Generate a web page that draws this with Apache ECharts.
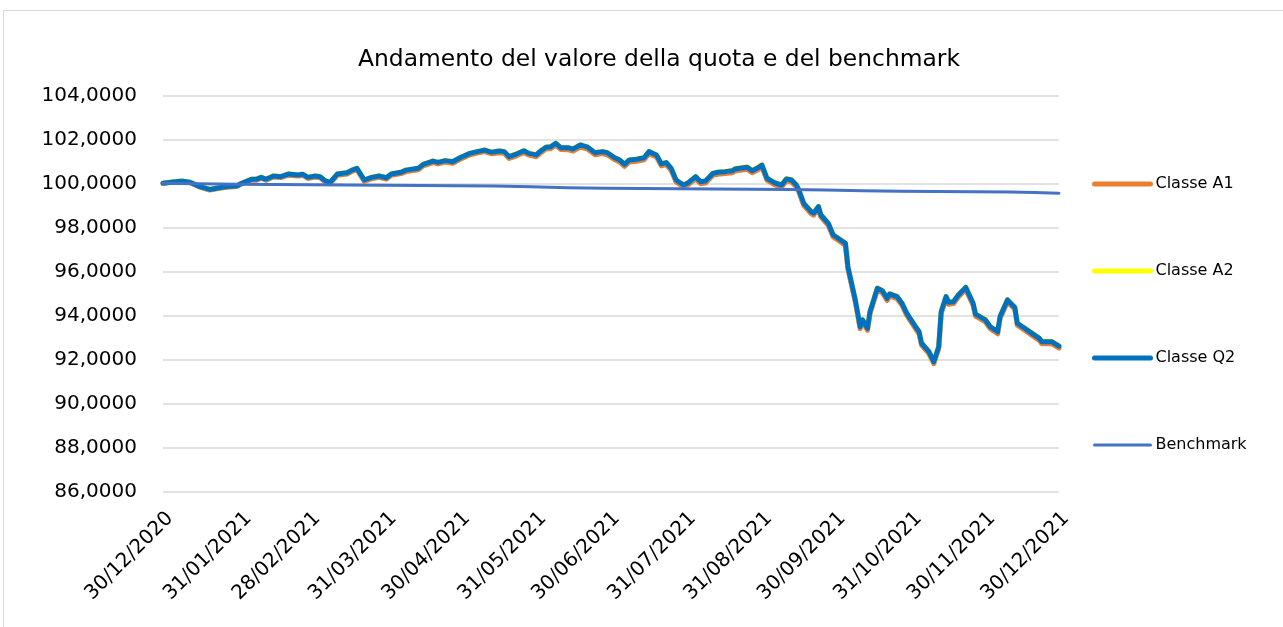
<!DOCTYPE html>
<html>
<head>
<meta charset="utf-8">
<script src="https://cdn.jsdelivr.net/npm/echarts@6/dist/echarts.min.js"></script>
<style>
  html, body { margin: 0; padding: 0; background: #fff; }
  #chart { width: 1283px; height: 627px; }
</style>
</head>
<body>
<div id="chart"></div>
<script>
// giorni dal 30/12/2020
var days = [
  0, 4, 8, 11, 15, 19, 23, 26, 30, 32,
  36, 38, 40, 42, 45, 48, 51, 55, 57, 59,
  62, 64, 66, 68, 71, 75, 77, 79, 82, 85,
  88, 91, 93, 97, 99, 104, 106, 110, 112, 115,
  118, 121, 125, 128, 131, 134, 137, 139, 141, 144,
  147, 149, 152, 154, 156, 158, 160, 162, 165, 167,
  170, 173, 176, 179, 181, 184, 186, 188, 190, 193,
  196, 198, 201, 203, 205, 207, 209, 212, 214, 217,
  219, 221, 224, 226, 229, 232, 233, 238, 240, 242,
  244, 246, 249, 252, 254, 256, 258, 259, 261, 264,
  265, 267, 268, 271, 273, 275, 278, 279, 282, 284,
  285, 287, 288, 291, 293, 295, 296, 299, 301, 303,
  307, 308, 309, 312, 314, 316, 317, 319, 320, 322,
  324, 327, 330, 331, 335, 337, 340, 341, 344, 347,
  348, 351, 354, 357, 358, 362, 365
];

var classeA1 = [
  100.00, 100.05, 100.08, 100.03, 99.83, 99.69, 99.77, 99.82, 99.85, 99.97,
  100.14, 100.14, 100.23, 100.14, 100.29, 100.26, 100.37, 100.33, 100.36, 100.22,
  100.28, 100.25, 100.07, 99.98, 100.36, 100.42, 100.54, 100.62, 100.09, 100.21,
  100.27, 100.19, 100.36, 100.44, 100.53, 100.61, 100.79, 100.94, 100.88, 100.96,
  100.91, 101.09, 101.29, 101.37, 101.44, 101.34, 101.39, 101.36, 101.13, 101.25,
  101.40, 101.28, 101.21, 101.40, 101.56, 101.58, 101.74, 101.54, 101.53, 101.46,
  101.65, 101.55, 101.30, 101.35, 101.30, 101.07, 100.97, 100.77, 100.97, 101.00,
  101.07, 101.35, 101.20, 100.79, 100.85, 100.59, 100.06, 99.83, 99.94, 100.21,
  99.98, 100.01, 100.36, 100.41, 100.44, 100.48, 100.56, 100.64, 100.48, 100.59,
  100.74, 100.14, 99.94, 99.83, 100.11, 100.06, 99.83, 99.61, 99.00, 98.62,
  98.55, 98.85, 98.47, 98.09, 97.56, 97.41, 97.18, 96.12, 94.61, 93.39,
  93.70, 93.32, 94.07, 95.14, 95.03, 94.68, 94.88, 94.76, 94.46, 94.00,
  93.32, 93.16, 92.64, 92.26, 91.80, 92.48, 94.07, 94.76, 94.50, 94.53,
  94.83, 95.18, 94.46, 93.96, 93.70, 93.39, 93.16, 93.85, 94.61, 94.27,
  93.55, 93.32, 93.09, 92.86, 92.71, 92.71, 92.51
];

var classeA2 = [
  100.00, 100.07, 100.11, 100.06, 99.86, 99.73, 99.81, 99.86, 99.89, 100.01,
  100.19, 100.19, 100.28, 100.19, 100.34, 100.31, 100.43, 100.39, 100.42, 100.28,
  100.34, 100.31, 100.13, 100.04, 100.43, 100.49, 100.61, 100.69, 100.16, 100.28,
  100.34, 100.26, 100.43, 100.51, 100.61, 100.69, 100.87, 101.02, 100.96, 101.04,
  100.99, 101.17, 101.37, 101.45, 101.52, 101.42, 101.48, 101.45, 101.22, 101.34,
  101.49, 101.37, 101.30, 101.49, 101.65, 101.67, 101.83, 101.63, 101.63, 101.56,
  101.75, 101.65, 101.40, 101.45, 101.40, 101.17, 101.07, 100.87, 101.07, 101.10,
  101.17, 101.45, 101.30, 100.89, 100.95, 100.69, 100.16, 99.93, 100.04, 100.31,
  100.08, 100.11, 100.46, 100.51, 100.54, 100.59, 100.67, 100.75, 100.59, 100.70,
  100.85, 100.25, 100.05, 99.94, 100.22, 100.17, 99.94, 99.72, 99.11, 98.73,
  98.66, 98.96, 98.58, 98.20, 97.67, 97.52, 97.29, 96.23, 94.72, 93.50,
  93.81, 93.43, 94.18, 95.25, 95.14, 94.79, 94.99, 94.87, 94.57, 94.11,
  93.43, 93.27, 92.75, 92.37, 91.91, 92.59, 94.18, 94.87, 94.61, 94.64,
  94.94, 95.29, 94.57, 94.07, 93.81, 93.50, 93.27, 93.96, 94.72, 94.38,
  93.66, 93.43, 93.20, 92.97, 92.82, 92.82, 92.62
];

var classeQ2 = [
  100.00, 100.06, 100.10, 100.05, 99.85, 99.72, 99.80, 99.85, 99.88, 100.00,
  100.18, 100.18, 100.27, 100.18, 100.33, 100.30, 100.42, 100.38, 100.41, 100.27,
  100.33, 100.30, 100.12, 100.03, 100.42, 100.48, 100.60, 100.68, 100.15, 100.27,
  100.33, 100.25, 100.42, 100.50, 100.60, 100.68, 100.86, 101.01, 100.95, 101.03,
  100.98, 101.16, 101.36, 101.44, 101.51, 101.41, 101.47, 101.44, 101.21, 101.33,
  101.48, 101.36, 101.29, 101.48, 101.64, 101.66, 101.82, 101.62, 101.62, 101.55,
  101.74, 101.64, 101.39, 101.44, 101.39, 101.16, 101.06, 100.86, 101.06, 101.09,
  101.16, 101.44, 101.29, 100.88, 100.94, 100.68, 100.15, 99.92, 100.03, 100.30,
  100.07, 100.10, 100.45, 100.50, 100.53, 100.57, 100.65, 100.73, 100.57, 100.68,
  100.83, 100.23, 100.03, 99.92, 100.20, 100.15, 99.92, 99.70, 99.09, 98.71,
  98.64, 98.94, 98.56, 98.18, 97.65, 97.50, 97.27, 96.21, 94.70, 93.48,
  93.79, 93.41, 94.16, 95.23, 95.12, 94.77, 94.97, 94.85, 94.55, 94.09,
  93.41, 93.25, 92.73, 92.35, 91.89, 92.57, 94.16, 94.85, 94.59, 94.62,
  94.92, 95.27, 94.55, 94.05, 93.79, 93.48, 93.25, 93.94, 94.70, 94.36,
  93.64, 93.41, 93.18, 92.95, 92.80, 92.80, 92.60
];

var benchDays = [0, 15, 30, 45, 60, 75, 90, 105, 120, 135, 150, 165, 180, 195, 210, 225, 240, 255, 270, 285, 300, 315, 330, 345, 355, 365];
var benchmark = [100.00, 99.98, 99.96, 99.94, 99.93, 99.92, 99.91, 99.90, 99.89, 99.88, 99.84, 99.80, 99.77, 99.76, 99.75, 99.74, 99.73, 99.72, 99.69, 99.66, 99.64, 99.63, 99.62, 99.60, 99.58, 99.55];

// etichette asse x
var tickDays = [0, 32, 60, 91, 121, 152, 182, 213, 244, 274, 305, 335, 365];
var tickLabels = ["30/12/2020", "31/01/2021", "28/02/2021", "31/03/2021", "30/04/2021", "31/05/2021",
  "30/06/2021", "31/07/2021", "31/08/2021", "30/09/2021", "31/10/2021", "30/11/2021", "30/12/2021"];

var yTicks = [86, 88, 90, 92, 94, 96, 98, 100, 102, 104];

function pairs(xs, ys) {
  return xs.map(function (x, i) { return [x, ys[i]]; });
}

var chart = echarts.init(document.getElementById("chart"));
var font = "DejaVu Sans";

function legendItem(name, color, width) {
  return { name: name, lineStyle: { color: color, width: width, cap: "round" } };
}

var option = {
  animation: false,
  backgroundColor: "#fff",
  textStyle: { fontFamily: font },
  graphic: [{
    type: "rect",
    shape: { x: 3.5, y: 10.5, width: 1300, height: 640 },
    style: { fill: "none", stroke: "#d9d9d9", lineWidth: 1 }
  }],
  title: {
    text: "Andamento del valore della quota e del benchmark",
    left: 654,
    top: 43,
    textAlign: "center",
    textStyle: { fontFamily: font, fontSize: 23.4, fontWeight: "normal", color: "#000" }
  },
  legend: {
    orient: "vertical",
    left: 1092,
    top: 176,
    padding: 0,
    itemWidth: 56,
    itemHeight: 2,
    itemGap: 71,
    itemStyle: { opacity: 0 },
    textStyle: { fontFamily: font, fontSize: 16, color: "#000" },
    data: [
      legendItem("Classe A1", "#ED7D31", 5),
      legendItem("Classe A2", "#FFFF00", 5),
      legendItem("Classe Q2", "#0070C0", 5),
      legendItem("Benchmark", "#4472C4", 3)
    ]
  },
  grid: { left: 163, right: 224, top: 95.3, bottom: 135.7, containLabel: false },
  xAxis: {
    type: "value",
    min: 0,
    max: 365,
    axisLine: { show: false },
    axisTick: { show: false },
    splitLine: { show: false },
    axisLabel: {
      customValues: tickDays,
      rotate: 45,
      margin: 31,
      padding: [0, -10, 0, 0],
      fontFamily: font,
      fontSize: 20,
      color: "#000",
      formatter: function (v) {
        var i = tickDays.indexOf(v);
        return i >= 0 ? tickLabels[i] : "";
      }
    }
  },
  yAxis: {
    type: "value",
    min: yTicks[0],
    max: yTicks[yTicks.length - 1],
    interval: 2,
    axisLine: { show: false },
    axisTick: { show: false },
    splitLine: { lineStyle: { color: "#d9d9d9", width: 1.5 } },
    axisLabel: {
      margin: 26,
      fontFamily: font,
      fontSize: 20,
      color: "#000",
      formatter: function (v) { return v.toFixed(4).replace(".", ","); }
    }
  },
  series: [
    {
      name: "Classe A1", type: "line", data: pairs(days, classeA1),
      showSymbol: false, symbol: "none", color: "#ED7D31",
      lineStyle: { width: 5, color: "#ED7D31", cap: "round", join: "round" }
    },
    {
      name: "Classe A2", type: "line", data: pairs(days, classeA2),
      showSymbol: false, symbol: "none", color: "#FFFF00",
      lineStyle: { width: 5, color: "#FFFF00", cap: "round", join: "round" }
    },
    {
      name: "Classe Q2", type: "line", data: pairs(days, classeQ2),
      showSymbol: false, symbol: "none", color: "#0070C0",
      lineStyle: { width: 5, color: "#0070C0", cap: "round", join: "round" }
    },
    {
      name: "Benchmark", type: "line", data: pairs(benchDays, benchmark),
      showSymbol: false, symbol: "none", color: "#4472C4",
      lineStyle: { width: 3, color: "#4472C4", cap: "round", join: "round" }
    }
  ]
};

chart.setOption(option);
</script>
</body>
</html>
